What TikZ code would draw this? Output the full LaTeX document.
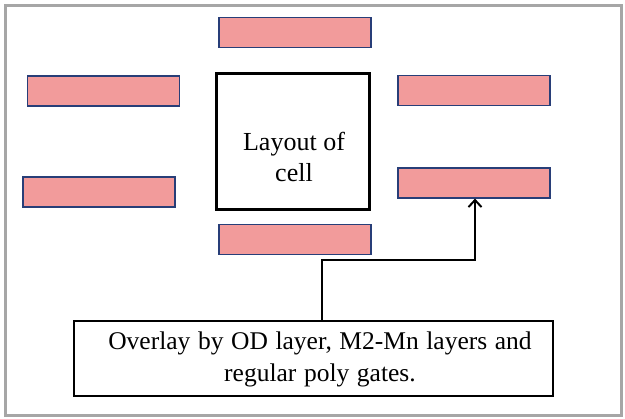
\documentclass[tikz,border=0pt]{standalone}
\usepackage{fontspec}
\setmainfont{Liberation Serif}[Ligatures=TeX]
\newfontfamily\tnr{Liberation Serif}
\usetikzlibrary{arrows.meta}
\definecolor{pinkfill}{RGB}{242,155,155}
\definecolor{navyedge}{RGB}{40,62,120}
\definecolor{framegray}{RGB}{166,166,166}
\newcommand{\widewords}{\spaceskip=7.6pt plus 1pt\relax}
\tikzset{
  pinkbox/.style={draw=navyedge, fill=pinkfill, line width=1.2pt, inner sep=0pt,
    minimum width=152pt, minimum height=30pt},
  cellbox/.style={draw=black, line width=3pt, inner sep=0pt,
    minimum width=153pt, minimum height=136pt},
  notebox/.style={draw=black, line width=2pt, inner sep=0pt,
    minimum width=479pt, minimum height=75pt},
  notetext/.style={align=center, inner sep=0pt,
    font=\tnr\fontsize{25.5}{32}\selectfont\widewords},
  conn/.style={draw=black, line width=2pt, -{Straight Barb[length=7pt,width=13pt,line width=2pt]}}
}
\begin{document}
\begin{tikzpicture}[x=1pt,y=-1pt]
\useasboundingbox (0,0) rectangle (625,419);
\draw[framegray, line width=3pt] (5,6) rectangle (621,416);
\node[pinkbox] (top) at (295,32.5) {};
\node[pinkbox] (lu) at (103.5,91) {};
\node[pinkbox] (ru) at (474,90.5) {};
\node[pinkbox] (ll) at (99,192) {};
\node[pinkbox] (rl) at (474,183) {};
\node[pinkbox] (bc) at (295,239.5) {};
\node[cellbox] (cell) at (293,141.5) {};
\node[align=center, font=\tnr\fontsize{26}{31}\selectfont] (celltext) at (294,157) {Layout of\\cell};
\node[notebox] (ov) at (313,358.5) {};
\node[notetext] (ovtext) at (320,359) {Overlay by OD layer, M2-Mn layers and\\regular poly gates.};
\coordinate (bend) at (322,260);
\coordinate (ax) at (475,0);
\draw[conn] (ov.north -| bend) -- (bend) -| (rl.south -| ax);
\end{tikzpicture}
\end{document}
